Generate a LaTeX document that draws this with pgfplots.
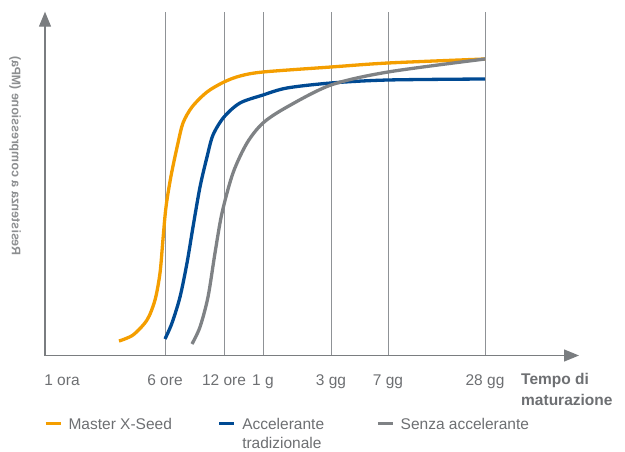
\documentclass[border=0pt]{standalone}
\usepackage{pgfplots}
\pgfplotsset{compat=1.18}
\usepackage{fontspec}
\setmainfont{Liberation Sans}
\usetikzlibrary{arrows.meta}
\definecolor{cOrange}{HTML}{F49E00}
\definecolor{cBlue}{HTML}{004A93}
\definecolor{cGray}{HTML}{7F8285}
\definecolor{cAxis}{HTML}{7A7D80}
\definecolor{cGrid}{HTML}{8F9296}
\definecolor{cText}{HTML}{6D6F72}
\definecolor{cLabel}{HTML}{8C8E90}
\begin{document}
\begin{tikzpicture}
\useasboundingbox (0,0) rectangle (625pt,451pt);
\begin{axis}[
  at={(45pt,95.5pt)}, anchor=south west,
  scale only axis, width=534pt, height=343.8pt,
  xmin=45, xmax=579, ymin=1.5, ymax=345.3,
  axis lines=left,
  axis line style={draw=cAxis, line width=1.3pt, -{Triangle[length=15pt,width=12pt]}},
  xtick={165,224,263,331,388,485},
  xticklabels={6 ore,12 ore,1 g,3 gg,7 gg,28 gg},
  extra x ticks={62},
  extra x tick labels={1 ora},
  extra x tick style={grid=none},
  xmajorgrids,
  grid style={draw=cGrid, line width=1pt},
  ytick=\empty,
  major tick length=0pt,
  xticklabel style={font=\fontsize{15.5}{18}\selectfont, text=cText, anchor=base, yshift=-30pt},
  clip=false,
  legend columns=3,
  legend style={draw=none, fill=none, at={(-0.0019,-0.1809)}, anchor=north west,
    inner xsep=0pt, inner ysep=0pt,
    nodes={inner sep=0pt, text=cText, font=\fontsize{15.5}{19.5}\selectfont},
    cells={anchor=base west},
    /tikz/every odd column/.append style={column sep=6.4pt}},
  legend image code/.code={\draw[#1, line width=3pt] (0pt,5.7pt) -- (15pt,5.7pt);},
]
\addplot[cOrange, line width=3.3pt, smooth] coordinates {
(119,16) (133,22) (147,37) (155,57) (160,84) (163,118) (166,150) (171,181)
(178,214) (183,234) (192,250) (207,265) (224,275) (240,281) (263,285)
(331,290) (388,294) (485,298)};
\addlegendentry{\makebox[149.3pt][l]{Master X-Seed}}
\addplot[cBlue, line width=3.3pt, smooth] coordinates {
(165,18) (172,34) (180,60) (187,94) (193,130) (200,170) (207,200) (213,222)
(224,240) (240,254) (263,262) (287,269) (331,274) (388,277) (485,278)};
\addlegendentry{\parbox[t]{134pt}{Accelerante\\tradizionale}}
\addplot[cGray, line width=3.3pt, smooth] coordinates {
(192,13) (200,30) (208,60) (215,104) (222,144) (233,184) (247,214) (263,234)
(287,250) (331,272) (388,285) (485,298)};
\addlegendentry{Senza accelerante}
\node[anchor=base west, align=left, font=\bfseries\fontsize{15.5}{21}\selectfont, text=cText, inner sep=0pt]
  at (axis cs:521,-48) {Tempo di\\maturazione};
\node[rotate=90, yscale=-1, font=\bfseries\fontsize{12.4}{15}\selectfont, text=cLabel, inner sep=0pt]
  at (axis cs:15,201) {Resistenza a compressione (MPa)};
\end{axis}
\end{tikzpicture}
\end{document}
